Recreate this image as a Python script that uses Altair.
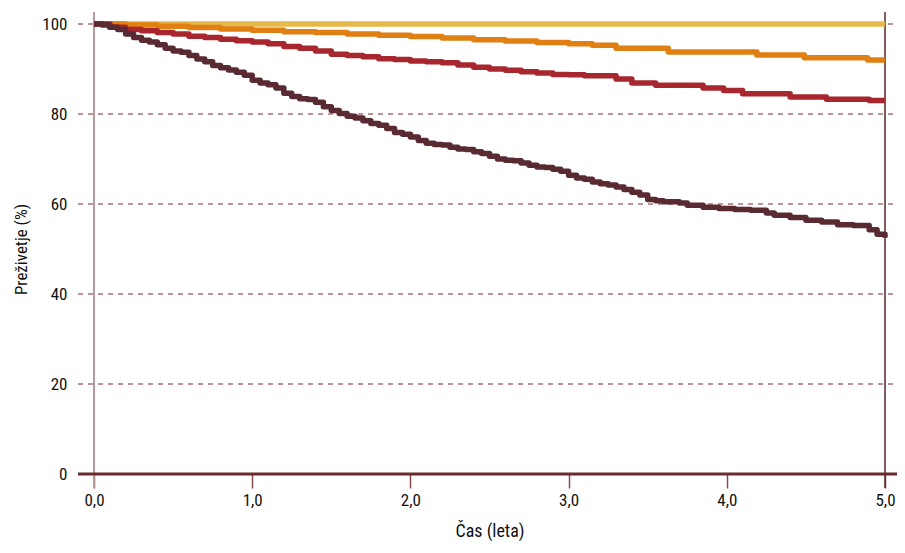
import altair as alt
import pandas as pd

# Kaplan-Meier survival curves (time in years, survival %)
dark_t = [0.00, 0.05, 0.10, 0.15, 0.20, 0.25, 0.30, 0.35, 0.40, 0.45, 0.50, 0.55, 0.60, 0.65, 0.70,
          0.75, 0.80, 0.85, 0.90, 0.95, 1.00, 1.05, 1.10, 1.15, 1.20, 1.25, 1.30, 1.35, 1.40, 1.45,
          1.50, 1.55, 1.60, 1.65, 1.70, 1.75, 1.80, 1.85, 1.90, 1.95, 2.00, 2.05, 2.10, 2.15, 2.20,
          2.25, 2.30, 2.35, 2.40, 2.45, 2.50, 2.55, 2.60, 2.65, 2.70, 2.75, 2.80, 2.85, 2.90, 2.95,
          3.00, 3.05, 3.10, 3.15, 3.20, 3.25, 3.30, 3.35, 3.40, 3.45, 3.50, 3.55, 3.60, 3.70, 3.75,
          3.85, 3.95, 4.05, 4.15, 4.25, 4.30, 4.40, 4.50, 4.60, 4.70, 4.80, 4.90, 4.95, 5.00]
dark_v = [100.0, 99.8, 99.3, 98.8, 97.8, 97.0, 96.4, 96.0, 95.4, 94.6, 94.0, 93.7, 93.0, 92.2, 91.6,
          90.8, 90.3, 89.8, 89.3, 88.6, 87.5, 86.9, 86.5, 85.8, 84.6, 83.9, 83.4, 83.2, 82.6, 81.6,
          80.8, 80.1, 79.5, 79.1, 78.5, 77.9, 77.5, 76.8, 75.9, 75.5, 74.9, 74.1, 73.5, 73.2, 73.1,
          72.6, 72.2, 72.1, 71.6, 71.2, 70.6, 70.0, 69.7, 69.6, 69.1, 68.6, 68.2, 68.1, 67.7, 67.3,
          66.4, 65.8, 65.5, 64.9, 64.5, 64.2, 63.8, 63.2, 62.6, 62.0, 61.0, 60.7, 60.5, 60.2, 59.7,
          59.3, 59.0, 58.8, 58.6, 58.0, 57.5, 57.0, 56.4, 56.0, 55.4, 55.2, 54.3, 53.3, 52.5]

red_t = [0.0, 0.1, 0.2, 0.3, 0.4, 0.5, 0.6, 0.7, 0.8, 0.9, 1.0, 1.1, 1.2, 1.3, 1.4, 1.5, 1.6, 1.7,
         1.8, 1.9, 2.0, 2.1, 2.2, 2.3, 2.4, 2.5, 2.6, 2.7, 2.8, 2.9, 3.0, 3.1, 3.3, 3.4, 3.55, 3.85,
         3.98, 4.1, 4.4, 4.63, 4.9, 5.0]
red_v = [100.0, 99.3, 98.8, 98.5, 98.1, 97.8, 97.3, 97.0, 96.6, 96.3, 96.0, 95.6, 95.0, 94.6, 94.0,
         93.3, 93.0, 92.7, 92.3, 92.1, 91.8, 91.6, 91.4, 90.9, 90.4, 90.0, 89.7, 89.4, 89.1, 88.8,
         88.7, 88.5, 87.8, 86.9, 86.4, 85.8, 85.2, 84.5, 83.8, 83.3, 83.0, 83.0]

orange_t = [0.0, 0.2, 0.4, 0.6, 0.8, 1.0, 1.2, 1.4, 1.6, 1.8, 2.0, 2.2, 2.4, 2.6, 2.8, 3.0, 3.15,
            3.30, 3.63, 4.19, 4.49, 4.89, 5.0]
orange_v = [100.0, 99.8, 99.5, 99.2, 98.9, 98.6, 98.3, 98.1, 97.8, 97.5, 97.2, 96.9, 96.5, 96.2,
            95.9, 95.6, 95.3, 94.6, 93.8, 93.1, 92.5, 92.0, 92.0]

yellow_t = [0.0, 5.0]
yellow_v = [100.0, 100.0]

series_names = ["A", "B", "C", "D"]
series_colors = ["#e6b84a", "#e07f12", "#a8272e", "#5a2a33"]

grid_vals = [20, 40, 60, 80, 100]
x_ticks = [0, 1, 2, 3, 4, 5]
y_ticks = [0, 20, 40, 60, 80, 100]

W, H = 791, 450
FONT = "Roboto Condensed, Roboto, sans-serif"

rows = []
for name, ts, vs in zip(series_names, [yellow_t, orange_t, red_t, dark_t],
                        [yellow_v, orange_v, red_v, dark_v]):
    for t, v in zip(ts, vs):
        rows.append({"serie": name, "t": t, "v": v})
df = pd.DataFrame(rows)

xscale = alt.Scale(domain=[0, 5], nice=False, zero=False)
yscale = alt.Scale(domain=[0, 100], nice=False)

grid = alt.Chart(pd.DataFrame({"g": grid_vals})).mark_rule(
    color="#7a2a2e", strokeWidth=1, strokeDash=[5, 5]
).encode(
    y=alt.Y("g:Q", scale=yscale),
    x=alt.value(-16), x2=alt.value(W + 14)
)

left_line = alt.Chart(pd.DataFrame({"x": [0]})).mark_rule(
    color="#b89a9a", strokeWidth=2
).encode(x=alt.X("x:Q", scale=xscale), y=alt.value(-12), y2=alt.value(H + 14))

right_line = alt.Chart(pd.DataFrame({"x": [5]})).mark_rule(
    color="#5a2a2e", strokeWidth=1.5
).encode(x=alt.X("x:Q", scale=xscale), y=alt.value(-12), y2=alt.value(H + 14))

lines = alt.Chart(df).mark_line(
    interpolate="step-after", strokeWidth=5.5, strokeCap="butt", strokeJoin="round"
).encode(
    x=alt.X("t:Q", scale=xscale, title="Čas (leta)",
            axis=alt.Axis(values=x_ticks,
                          labelExpr="replace(format(datum.value, '.1f'), '.', ',')",
                          grid=False, domain=False, ticks=True, tickSize=14,
                          tickColor="#8a4a4e", tickWidth=1.5, labelPadding=4,
                          labelFlush=False,
                          labelFontSize=17, labelColor="#111111", labelFont=FONT,
                          titleFont=FONT, titleFontSize=18, titleFontWeight="normal",
                          titleColor="#111111", titlePadding=14)),
    y=alt.Y("v:Q", scale=yscale, title="Preživetje (%)",
            axis=alt.Axis(values=y_ticks, format="d", grid=False, domain=False,
                          ticks=False, labelPadding=27, labelFontSize=17,
                          labelFlush=False,
                          labelColor="#111111", labelFont=FONT, titleFont=FONT,
                          titleFontSize=17, titleFontWeight="normal",
                          titleColor="#111111", titlePadding=11)),
    color=alt.Color("serie:N", scale=alt.Scale(domain=series_names, range=series_colors),
                    legend=None),
    order=alt.Order("t:Q")
)

bottom_line = alt.Chart(pd.DataFrame({"y": [0]})).mark_rule(
    color="#6b2a2e", strokeWidth=3
).encode(y=alt.Y("y:Q", scale=yscale), x=alt.value(-16), x2=alt.value(W + 14))

chart = alt.layer(grid, left_line, right_line, lines, bottom_line).properties(
    width=W, height=H,
    autosize=alt.AutoSizeParams(type="none"),
    padding={"left": 86, "top": 16, "right": 12, "bottom": 70}
).configure_view(stroke=None).configure(background="white")

chart.save("out.html", embed_options={"renderer": "svg", "actions": False})
